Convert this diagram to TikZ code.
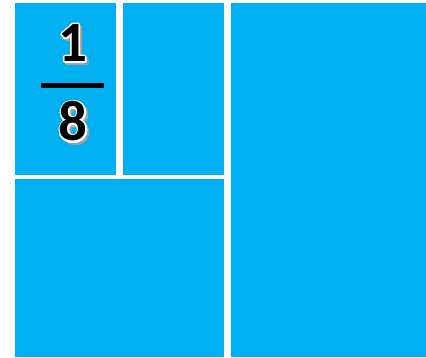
\documentclass[tikz,border=0pt]{standalone}
\usepackage{fontspec}
\setmainfont{Carlito}
\definecolor{tileblue}{HTML}{00B0F0}
\definecolor{shadowgrey}{HTML}{A0A0A0}
\tikzset{
  tile/.style={fill=tileblue, draw=none},
  digit/.style={inner sep=0pt, font=\fontsize{57}{57}\selectfont\bfseries},
}
% text render mode: 1 = stroke only, 2 = fill and stroke, 0 = fill
\newcommand{\strokedtext}[3]{% #1 render mode, #2 line width, #3 text
  \special{pdf:literal direct #1 Tr #2 w 1 j}#3\special{pdf:literal direct 0 Tr}}
\newcommand{\copyat}[3]{\rlap{\kern#1\raisebox{#2}{#3}}}
\newcommand{\outlined}[1]{%
  \copyat{2.2pt}{-2.2pt}{\color{shadowgrey}\strokedtext{2}{3}{#1}}%
  \rlap{\color{white}\strokedtext{2}{3.4}{#1}}%
  {\color{black}#1}}
\begin{document}
\begin{tikzpicture}[x=1pt,y=-1pt]
\useasboundingbox (0,0) rectangle (426,358);
\fill[white] (0,0) rectangle (426,358);
\path[tile] (15,3) rectangle (116,175);
\path[tile] (123,3) rectangle (224,175);
\path[tile] (15,179) rectangle (224,357);
\path[tile] (231,3) rectangle (426,357);
\node[digit] (one) at (72.5,44) {\outlined{1}};
\node[digit] (eight) at (73,122.5) {\outlined{8}};
\fill[black] (41,83) rectangle (104,88);
\end{tikzpicture}
\end{document}
